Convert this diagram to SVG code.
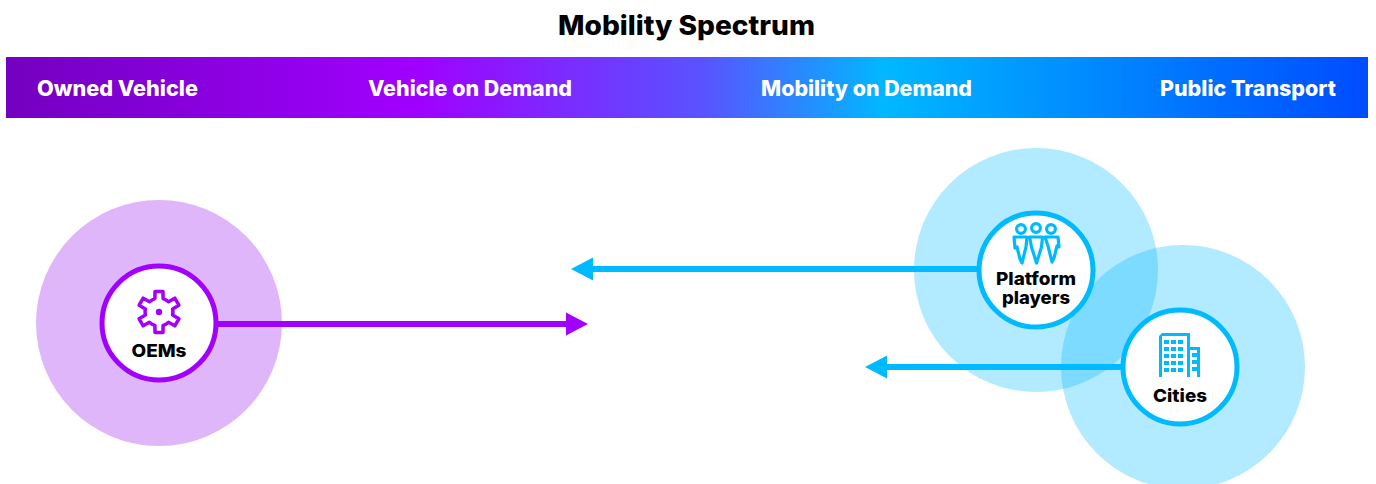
<svg xmlns="http://www.w3.org/2000/svg" width="1376" height="484" viewBox="0 0 1376 484">
<defs>
<linearGradient id="bar" x1="6" y1="0" x2="1368" y2="0" gradientUnits="userSpaceOnUse">
<stop offset="0" stop-color="#7400c0"/>
<stop offset="0.3" stop-color="#a000ff"/>
<stop offset="0.51" stop-color="#5a52ff"/>
<stop offset="0.645" stop-color="#00b8ff"/>
<stop offset="1" stop-color="#004cff"/>
</linearGradient>
</defs>
<style>
text{font-family:"Inter","Roboto","Liberation Sans",sans-serif;font-weight:800}
.title{font-size:27px;fill:#000}
.band{font-size:21px;fill:#fff}
.lbl{font-size:17.5px;fill:#000;text-anchor:middle}
.halo-c{fill:#00baff;fill-opacity:0.3}
.halo-p{fill:#e0b6fa}
.inner-p{fill:#fff;stroke:#a100ff;stroke-width:5}
.inner-c{fill:#fff;stroke:#00baff;stroke-width:5}
.conn-p{stroke:#a100ff;stroke-width:6;fill:none}
.conn-c{stroke:#00baff;stroke-width:6;fill:none}
.head-p{fill:#a100ff}
.head-c{fill:#00baff}
.ic-p{fill:none;stroke:#a100ff;stroke-width:3.5;stroke-linejoin:round}
</style>
<rect width="1376" height="484" fill="#fff"/>
<text class="title" x="558" y="35" textLength="257" lengthAdjust="spacingAndGlyphs">Mobility Spectrum</text>
<g id="spectrum">
<rect x="6" y="57" width="1362" height="61" fill="url(#bar)"/>
<text class="band" x="37" y="96" textLength="161" lengthAdjust="spacingAndGlyphs">Owned Vehicle</text>
<text class="band" x="368" y="96" textLength="204" lengthAdjust="spacingAndGlyphs">Vehicle on Demand</text>
<text class="band" x="761" y="96" textLength="211" lengthAdjust="spacingAndGlyphs">Mobility on Demand</text>
<text class="band" x="1160" y="96" textLength="176" lengthAdjust="spacingAndGlyphs">Public Transport</text>
</g>
<g id="halos">
<circle class="halo-p" cx="159" cy="323" r="123"/>
<circle class="halo-c" cx="1036" cy="270" r="122"/>
<circle class="halo-c" cx="1183" cy="367" r="122"/>
</g>
<g id="connectors">
<line class="conn-p" x1="218" y1="324" x2="568" y2="324"/>
<polygon class="head-p" points="566,312.5 588,324 566,335.5"/>
<line class="conn-c" x1="978" y1="269" x2="590" y2="269"/>
<polygon class="head-c" points="593,257.5 571,269 593,280.5"/>
<line class="conn-c" x1="1122" y1="367" x2="884" y2="367"/>
<polygon class="head-c" points="887,355.5 865,367 887,378.5"/>
</g>
<g id="oems">
<circle class="inner-p" cx="159" cy="323" r="57"/>
<path class="ic-p" d="M154.9,298.6 L155,291.4 L163,291.4 L163.1,298.6 A14,14 0 0 1 168.5,301.8 L174.8,298.2 L178.9,305.2 L172.6,308.9 A14,14 0 0 1 172.6,315.1 L178.9,318.8 L174.8,325.8 L168.5,322.2 A14,14 0 0 1 163.1,325.4 L163,332.6 L155,332.6 L154.9,325.4 A14,14 0 0 1 149.5,322.2 L143.2,325.8 L139.1,318.8 L145.4,315.1 A14,14 0 0 1 145.4,308.9 L139.1,305.2 L143.2,298.2 L149.5,301.8 A14,14 0 0 1 154.9,298.6 Z"/>
<circle cx="159" cy="312" r="3.2" fill="#a100ff"/>
<text class="lbl" x="159" y="357" textLength="55" lengthAdjust="spacingAndGlyphs">OEMs</text>
</g>
<g id="platform-players">
<circle class="inner-c" cx="1036" cy="270" r="57"/>
<g fill="none" stroke="#00baff" stroke-width="3.2" stroke-linejoin="round">
<circle cx="1021" cy="229" r="4.4"/>
<circle cx="1036" cy="228" r="4.4"/>
<circle cx="1051" cy="229" r="4.4"/>
<path d="M1014,237 h13 l-1,10 l-4,16 l-2,-4 l-3,-12 l-2,1 z"/>
<path d="M1029.5,237 h13 l-1,10 l-5,16 l-5,-16 z"/>
<path d="M1045,237 h13 l1,10 l-2,-1 l-3,12 l-2,4 l-4,-16 z"/>
</g>
<text class="lbl" x="1036" y="285" textLength="80" lengthAdjust="spacingAndGlyphs">Platform</text>
<text class="lbl" x="1036" y="304" textLength="68" lengthAdjust="spacingAndGlyphs">players</text>
</g>
<g id="cities">
<circle class="inner-c" cx="1180" cy="367" r="57"/>
<g fill="#00baff">
<path d="M1159,377 v-41 l3,-3 h28 v44 h-3 v-30 h13 v30 h-3 v-27 h-7 v27 h-3 v-41 h-25 v41 z"/>
<rect x="1164" y="340" width="5" height="4"/><rect x="1171" y="340" width="5" height="4"/><rect x="1178" y="340" width="5" height="4"/>
<rect x="1164" y="347" width="5" height="4"/><rect x="1171" y="347" width="5" height="4"/><rect x="1178" y="347" width="5" height="4"/>
<rect x="1164" y="354" width="5" height="4"/><rect x="1171" y="354" width="5" height="4"/><rect x="1178" y="354" width="5" height="4"/>
<rect x="1164" y="361" width="5" height="4"/><rect x="1171" y="361" width="5" height="4"/><rect x="1178" y="361" width="5" height="4"/>
<rect x="1164" y="368" width="5" height="4"/><rect x="1171" y="368" width="5" height="4"/><rect x="1178" y="368" width="5" height="4"/>
<rect x="1192" y="353" width="5" height="4"/><rect x="1192" y="360" width="5" height="4"/><rect x="1192" y="367" width="5" height="4"/>
</g>
<text class="lbl" x="1180" y="402" textLength="54" lengthAdjust="spacingAndGlyphs">Cities</text>
</g>
</svg>
